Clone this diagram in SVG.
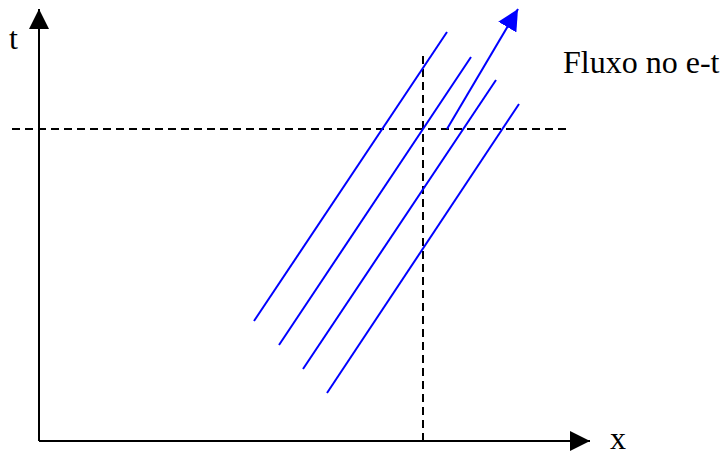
<svg xmlns="http://www.w3.org/2000/svg" width="723" height="457" viewBox="0 0 723 457">
<style>
.axis{stroke:#000;stroke-width:2;fill:none}
.dash{stroke:#000;stroke-width:2;stroke-dasharray:8,5;fill:none}
.flow{stroke:#0000ff;stroke-width:2;fill:none}
.lbl{font-family:"Liberation Serif","Times New Roman",serif;font-size:32px;fill:#000}
</style>
<defs>
<marker id="ab" markerUnits="userSpaceOnUse" markerWidth="20" markerHeight="20" refX="20" refY="10" orient="auto" viewBox="0 0 20 20"><path d="M0,0 L20,10 L0,20 z" fill="#000"/></marker>
<marker id="ablue" markerUnits="userSpaceOnUse" markerWidth="21" markerHeight="21" refX="20" refY="10" orient="auto" viewBox="0 0 20 20"><path d="M0,0 L20,10 L0,20 z" fill="#0000ff"/></marker>
</defs>
<rect width="723" height="457" fill="#fff"/>
<g id="connectors">
<line class="axis" x1="39" y1="441" x2="39" y2="9" marker-end="url(#ab)"/>
<line class="axis" x1="39" y1="441" x2="590" y2="441" marker-end="url(#ab)"/>
<line class="dash" x1="12" y1="129" x2="568" y2="129"/>
<line class="dash" x1="423" y1="56" x2="423" y2="441"/>
<line class="flow" x1="254" y1="321" x2="447" y2="32"/>
<line class="flow" x1="279" y1="345" x2="471" y2="57"/>
<line class="flow" x1="303" y1="369" x2="496" y2="80"/>
<line class="flow" x1="327" y1="393" x2="519" y2="104"/>
<line class="flow" x1="447" y1="129" x2="518" y2="9" marker-end="url(#ablue)"/>
</g>
<g id="labels">
<text class="lbl" x="9" y="49">t</text>
<text class="lbl" x="563" y="73">Fluxo no e-t</text>
<text class="lbl" x="610" y="449">x</text>
</g>
</svg>
